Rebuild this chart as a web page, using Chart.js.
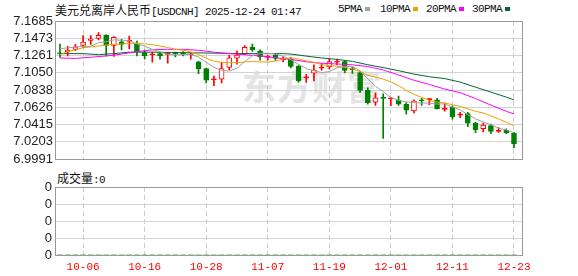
<!DOCTYPE html>
<html lang="zh-CN">
<head>
<meta charset="UTF-8">
<title>美元兑离岸人民币 USDCNH</title>
<script src="https://cdn.jsdelivr.net/npm/chart.js"></script>
<style>
  body { margin:0; width:578px; height:276px; background:#fff; position:relative; overflow:hidden; }
  .t { position:absolute; white-space:nowrap; line-height:12px; color:#111; }
  .cn { font-family:'Noto Sans CJK SC', sans-serif; font-size:12px; }
  .mono { font-family:'Liberation Mono', monospace; font-size:11px; letter-spacing:-0.6px; }
  .sq { position:absolute; width:5px; height:4px; }
  #wm { position:absolute; left:242px; top:66px; font-family:'Noto Sans CJK SC', sans-serif; font-weight:bold;
        font-size:34px; line-height:40px; color:#e4e4e4; letter-spacing:1px; }
  canvas { position:absolute; left:0; }
</style>
</head>
<body>
<div id="wm">东方财富</div>

<div class="t" style="left:55px;top:4px"><span class="cn">美元兑离岸人民币</span><span class="mono">[USDCNH] 2025-12-24 01:47</span></div>

<!-- legend -->
<div class="t mono" style="left:338px;top:3px">5PMA</div><div class="sq" style="left:365px;top:7px;background:#a0a0a0"></div>
<div class="t mono" style="left:380px;top:3px">10PMA</div><div class="sq" style="left:413px;top:7px;background:#f0a000"></div>
<div class="t mono" style="left:426px;top:3px">20PMA</div><div class="sq" style="left:459px;top:7px;background:#ff00ff"></div>
<div class="t mono" style="left:472px;top:3px">30PMA</div><div class="sq" style="left:505px;top:7px;background:#006633"></div>

<div class="t" style="left:57px;top:172px"><span class="cn">成交量</span><span class="mono">:0</span></div>

<canvas id="kline" width="578" height="170" style="top:0"></canvas>
<canvas id="vol" width="578" height="108" style="top:168px"></canvas>

<script>
// trading days shown on the chart
const dates = ['10-01','10-02','10-03','10-06','10-07','10-08','10-09','10-10','10-13','10-14',
  '10-15','10-16','10-17','10-20','10-21','10-22','10-23','10-24','10-27','10-28',
  '10-29','10-30','10-31','11-03','11-04','11-05','11-06','11-07','11-10','11-11',
  '11-12','11-13','11-14','11-17','11-18','11-19','11-20','11-21','11-24','11-25',
  '11-26','11-27','11-28','12-01','12-02','12-03','12-04','12-05','12-08','12-09',
  '12-10','12-11','12-12','12-15','12-16','12-17','12-18','12-19','12-22','12-23'];

const tickLabels = ['10-06','10-16','10-28','11-07','11-19','12-01','12-11','12-23'];
const yTicks = [6.9991, 7.0203, 7.0415, 7.0626, 7.0838, 7.1050, 7.1261, 7.1473, 7.1685];

const opens = [7.1290,7.1305,7.1336,7.1387,7.1446,7.1470,7.1509,7.1387,7.1430,7.1436,
  7.1406,7.1297,7.1271,7.1285,7.1275,7.1287,7.1287,7.1271,7.1185,7.1103,
  7.0965,7.0971,7.1117,7.1230,7.1285,7.1362,7.1320,7.1239,7.1265,7.1212,
  7.1214,7.1132,7.0989,7.1044,7.1107,7.1123,7.1179,7.1187,7.1091,7.1053,
  7.0838,7.0691,7.0738,7.0730,7.0717,7.0665,7.0582,7.0708,7.0721,7.0720,
  7.0601,7.0626,7.0532,7.0550,7.0432,7.0364,7.0403,7.0333,7.0346,7.0309];
const highs = [7.1403,7.1376,7.1399,7.1505,7.1505,7.1544,7.1520,7.1493,7.1461,7.1500,
  7.1438,7.1329,7.1305,7.1297,7.1297,7.1305,7.1309,7.1289,7.1191,7.1109,
  7.1011,7.1179,7.1265,7.1318,7.1385,7.1403,7.1332,7.1265,7.1285,7.1246,
  7.1235,7.1140,7.1030,7.1147,7.1167,7.1218,7.1218,7.1203,7.1117,7.1070,
  7.0867,7.0803,7.0791,7.0750,7.0765,7.0685,7.0720,7.0736,7.0736,7.0736,
  7.0673,7.0644,7.0567,7.0567,7.0442,7.0435,7.0420,7.0379,7.0364,7.0320];
const lows = [7.1240,7.1258,7.1320,7.1359,7.1399,7.1453,7.1258,7.1250,7.1329,7.1344,
  7.1258,7.1218,7.1179,7.1218,7.1167,7.1246,7.1258,7.1218,7.1038,7.0926,
  7.0893,7.0926,7.1089,7.1156,7.1273,7.1312,7.1206,7.1206,7.1203,7.1187,
  7.1109,7.0932,7.0932,7.0952,7.1081,7.1097,7.1147,7.1050,7.1041,7.0809,
  7.0667,7.0650,7.0246,7.0647,7.0650,7.0544,7.0559,7.0650,7.0658,7.0603,
  7.0579,7.0482,7.0500,7.0391,7.0315,7.0324,7.0305,7.0320,7.0305,7.0132];
const closes = [7.1283,7.1329,7.1367,7.1426,7.1465,7.1509,7.1387,7.1485,7.1399,7.1440,
  7.1309,7.1258,7.1275,7.1258,7.1277,7.1283,7.1283,7.1275,7.1097,7.0959,
  7.0969,7.1103,7.1234,7.1267,7.1362,7.1332,7.1246,7.1241,7.1226,7.1214,
  7.1129,7.0950,7.0991,7.1085,7.1109,7.1187,7.1181,7.1079,7.1089,7.0834,
  7.0685,7.0744,7.0736,7.0732,7.0667,7.0591,7.0706,7.0706,7.0723,7.0609,
  7.0603,7.0509,7.0534,7.0432,7.0353,7.0409,7.0332,7.0335,7.0315,7.0179];

// moving averages (null = not read at that day)
const ma5 = [7.1344,7.1356,7.1367,7.1373,7.1374,7.1419,7.1431,7.1454,7.1449,7.1444,
  7.1404,7.1378,7.1336,7.1308,7.1275,7.1270,7.1275,7.1275,7.1243,7.1179,
  7.1117,7.1081,7.1072,7.1106,7.1187,7.1260,7.1288,7.1290,7.1281,7.1252,
  7.1211,7.1152,7.1102,7.1074,7.1053,7.1064,7.1111,7.1128,7.1129,7.1074,
  7.0974,7.0886,7.0818,7.0746,7.0713,7.0694,7.0686,7.0680,7.0679,7.0667,
  7.0669,7.0630,7.0596,7.0537,7.0486,7.0447,7.0412,7.0372,7.0349,7.0314];
const ma10 = [7.1273,7.1309,7.1332,7.1356,7.1367,7.1379,7.1391,7.1397,7.1403,7.1409,
  7.1412,7.1405,7.1395,7.1379,7.1360,7.1337,7.1327,7.1306,7.1276,7.1227,
  7.1193,7.1178,7.1174,7.1175,7.1183,7.1188,7.1184,7.1181,7.1194,7.1219,
  7.1235,7.1220,7.1196,7.1178,7.1152,7.1138,7.1131,7.1115,7.1101,7.1063,
  7.1019,7.0998,7.0973,7.0938,7.0893,7.0834,7.0786,7.0749,7.0712,7.0690,
  7.0682,7.0658,7.0638,7.0608,7.0577,7.0558,7.0521,7.0484,7.0443,7.0400];
const ma20 = [7.1232,null,7.1226,null,7.1241,null,7.1256,null,7.1279,null,
  7.1309,null,7.1332,null,7.1338,null,7.1338,null,7.1326,null,
  7.1303,null,7.1285,null,7.1272,null,7.1256,null,7.1235,null,
  7.1214,null,7.1185,null,7.1168,null,7.1158,null,7.1148,null,
  7.1127,null,7.1085,null,7.1023,null,7.0959,null,7.0907,null,
  7.0851,null,7.0806,null,7.0735,null,7.0654,null,7.0578,7.0545];
const ma30 = [7.1285,null,null,7.1285,null,7.1273,null,7.1285,null,7.1303,
  null,null,7.1303,null,null,null,7.1297,null,null,null,
  7.1291,null,null,null,7.1285,null,null,7.1285,null,7.1285,
  7.1280,null,7.1255,null,7.1232,null,7.1214,null,7.1190,null,
  7.1149,null,7.1114,null,7.1076,null,7.1034,null,7.1002,null,
  7.0979,null,7.0936,null,7.0874,null,7.0813,null,7.0752,7.0718];

const volumes = [0,0,0,0,0,0,0,0,0,0, 0,0,0,0,0,0,0,0,0,0, 0,0,0,0,0,0,0,0,0,0,
  0,0,0,0,0,0,0,0,0,0, 0,0,0,0,0,0,0,0,0,0, 0,0,0,0,0,0,0,0,0,0];

const RED = '#ff0000', GREEN = '#008000';
const tickIdx = tickLabels.map(d => dates.indexOf(d));
const xMin = -0.52, xMax = 60.04;

const up = closes.map((c, i) => c >= opens[i]);
const candleColor = up.map(u => u ? RED : GREEN);
// small red bodies are drawn solid, larger ones hollow
const bodyFill = closes.map((c, i) => !up[i] ? GREEN : (c - opens[i] > 0.001 ? '#ffffff' : RED));

function line(arr) {
  return arr.map((v, i) => v == null ? null : { x: i, y: v }).filter(Boolean);
}

// frame around the plot area
const frame = {
  id: 'frame',
  afterDraw(chart) {
    const { ctx, chartArea: a } = chart;
    ctx.save();
    ctx.strokeStyle = '#999';
    ctx.lineWidth = 1;
    const l = Math.round(a.left) - 0.5, t = Math.round(a.top) + 0.5;
    const r = Math.round(a.right) + 0.5, b = Math.round(a.bottom) + 0.5;
    ctx.strokeRect(l, t, r - l, b - t);
    ctx.restore();
  }
};

const xGrid = { color: '#cccccc', drawTicks: false, offset: false };
const yTickFont = { family: "'Liberation Sans', Arial, sans-serif", size: 13 };

new Chart(document.getElementById('kline'), {
  data: {
    datasets: [
      { type: 'line', data: line(ma5), borderColor: '#a0a0a0', borderWidth: 1, pointRadius: 0, order: 0 },
      { type: 'line', data: line(ma10), borderColor: '#f0a000', borderWidth: 1, pointRadius: 0, order: 0 },
      { type: 'line', data: line(ma20), borderColor: '#ff00ff', borderWidth: 1, pointRadius: 0, order: 0 },
      { type: 'line', data: line(ma30), borderColor: '#006633', borderWidth: 1, pointRadius: 0, order: 0 },
      {
        type: 'bar', order: 1, grouped: false, barThickness: 5, minBarLength: 1,
        data: opens.map((o, i) => ({ x: i, y: [o, closes[i]] })),
        backgroundColor: bodyFill, borderColor: candleColor, borderWidth: 1, borderSkipped: false
      },
      {
        type: 'bar', order: 2, grouped: false, barThickness: 1,
        data: lows.map((l, i) => ({ x: i, y: [l, highs[i]] })),
        backgroundColor: candleColor, borderWidth: 0
      }
    ]
  },
  options: {
    responsive: false,
    animation: false,
    layout: { padding: { top: 21, right: 56, bottom: 5, left: 0 } },
    plugins: { legend: { display: false }, tooltip: { enabled: false } },
    scales: {
      x: {
        type: 'linear', min: xMin, max: xMax, offset: false,
        afterFit(s) { s.height = 0; },
        afterBuildTicks(s) { s.ticks = tickIdx.map(v => ({ value: v })); },
        ticks: { display: false, autoSkip: false },
        grid: xGrid,
        border: { display: false, dash: [5, 3] }
      },
      y: {
        type: 'linear', min: yTicks[0], max: yTicks[yTicks.length - 1],
        afterFit(s) { s.width = 56; },
        afterBuildTicks(s) { s.ticks = yTicks.map(v => ({ value: v })); },
        ticks: { padding: 3, color: '#222', font: yTickFont, autoSkip: false, callback: v => v.toFixed(4) },
        grid: { color: '#d3d3d3', drawTicks: false },
        border: { display: false }
      }
    }
  },
  plugins: [frame]
});

new Chart(document.getElementById('vol'), {
  data: {
    datasets: [
      { type: 'bar', data: volumes.map((v, i) => ({ x: i, y: v })), backgroundColor: GREEN, barThickness: 5 }
    ]
  },
  options: {
    responsive: false,
    animation: false,
    layout: { padding: { top: 19, right: 56, bottom: 0, left: 0 } },
    plugins: { legend: { display: false }, tooltip: { enabled: false } },
    scales: {
      x: {
        type: 'linear', min: xMin, max: xMax, offset: false,
        afterFit(s) { s.height = 21; },
        afterBuildTicks(s) { s.ticks = tickIdx.map(v => ({ value: v })); },
        ticks: {
          padding: 5, color: RED, maxRotation: 0, autoSkip: false,
          font: { family: "'Liberation Mono', monospace", size: 11 },
          callback: v => dates[v]
        },
        grid: xGrid,
        border: { display: false, dash: [5, 3] }
      },
      y: {
        type: 'linear', min: 0, max: 4,
        afterFit(s) { s.width = 56; },
        afterBuildTicks(s) { s.ticks = [0, 1, 2, 3, 4].map(v => ({ value: v })); },
        ticks: { padding: 4, color: '#222', font: yTickFont, autoSkip: false, callback: () => '0' },
        grid: { color: '#d3d3d3', drawTicks: false },
        border: { display: false }
      }
    }
  },
  plugins: [frame]
});
</script>
</body>
</html>
